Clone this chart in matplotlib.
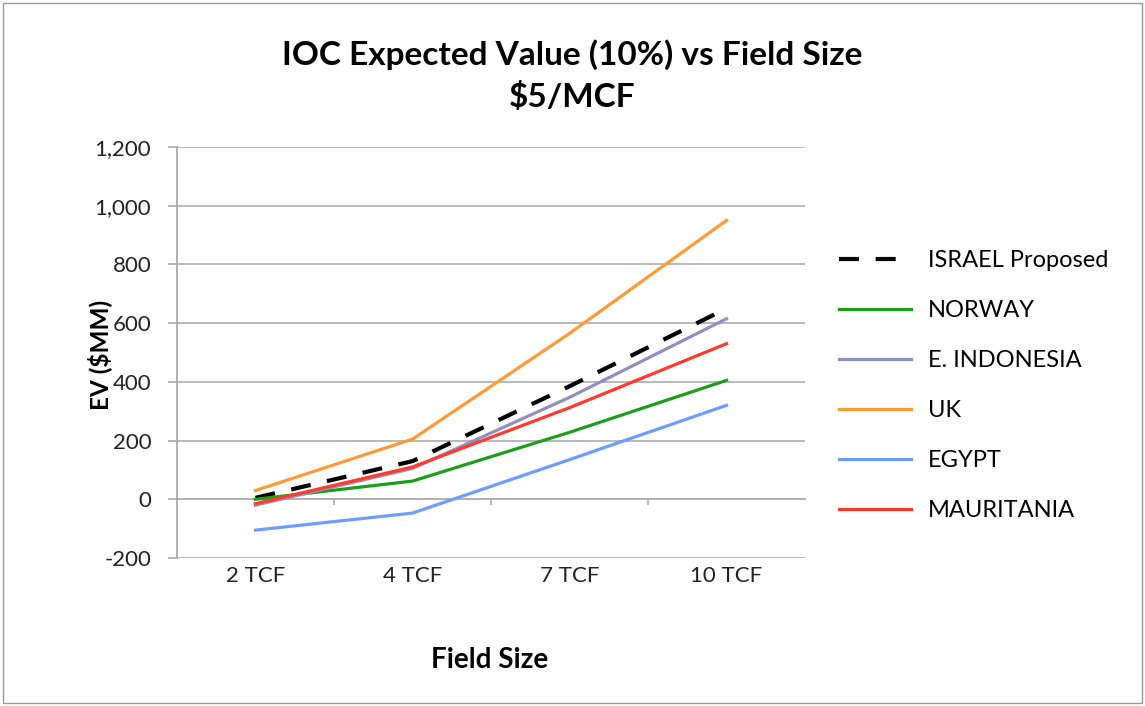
import matplotlib.pyplot as plt
from matplotlib.patches import Rectangle

plt.rcParams['font.family'] = ['Lato', 'DejaVu Sans']

sizes = ['2 TCF', '4 TCF', '7 TCF', '10 TCF']
israel = [5, 130, 385, 650]
norway = [0, 62, 228, 405]
indonesia = [-20, 105, 347, 615]
uk = [30, 205, 565, 950]
egypt = [-105, -47, 135, 320]
mauritania = [-15, 110, 312, 530]

series = [
    ('ISRAEL Proposed', israel, 'black', (0, (4.8, 4))),
    ('NORWAY', norway, '#1c9e1c', '-'),
    ('E. INDONESIA', indonesia, '#9090c0', '-'),
    ('UK', uk, '#ff9a36', '-'),
    ('EGYPT', egypt, '#6e9cff', '-'),
    ('MAURITANIA', mauritania, '#ff3b2f', '-'),
]

fig = plt.figure(figsize=(11.45, 7.06), dpi=100)
ax = fig.add_axes([177/1145, 1 - 558/706, (805-177)/1145, (558-147)/706])

x = list(range(len(sizes)))
for name, vals, col, ls in series:
    lw = 3.0 if name.startswith('ISRAEL') else 2.3
    ax.plot(x, vals, color=col, linestyle=ls, lw=lw, label=name)

ax.set_xlim(-0.5, 3.5)
ax.set_ylim(-200, 1200)
ax.set_yticks(range(-200, 1201, 200))
ax.set_yticklabels(['{:,}'.format(v) for v in range(-200, 1201, 200)])
ax.grid(axis='y', color='#b3b3b3', lw=1.3)
ax.set_axisbelow(True)
for s in ['top', 'right']:
    ax.spines[s].set_visible(False)
ax.spines['left'].set_color('#aaaaaa')
ax.spines['left'].set_linewidth(1.3)
ax.spines['bottom'].set_visible(False)
ax.tick_params(axis='y', colors='#aaaaaa', labelcolor='#222222', labelsize=16, length=6.5, width=1.2, pad=12)
ax.set_xticks(x)
ax.set_xticklabels(sizes)
ax.tick_params(axis='x', length=0, labelsize=16, labelcolor='#222222', pad=6)

# horizontal axis crossing at zero with category boundary ticks
sec = ax.secondary_xaxis(200/1400)
sec.set_xticks([0.5, 1.5, 2.5])
sec.set_xticklabels([])
sec.tick_params(length=4, width=1.2, color='#aaaaaa')
sec.spines['bottom'].set_color('#b3b3b3')
sec.spines['bottom'].set_linewidth(1.3)

ax.set_xlabel('Field Size', fontsize=20, fontweight='bold', va='center')
ax.xaxis.set_label_coords((490-177)/628, (558-660)/411)
ax.set_ylabel('EV ($MM)', fontsize=17.5, fontweight='bold', va='center')
ax.yaxis.set_label_coords((100-177)/628, 0.494)

fig.text(0.5, 1 - 55/706, 'IOC Expected Value (10%) vs Field Size',
         ha='center', va='center', fontsize=24, fontweight='bold')
fig.text(0.5, 1 - 97/706, '$5/MCF',
         ha='center', va='center', fontsize=24, fontweight='bold')

ax.legend(loc='upper left', bbox_to_anchor=(818/1145, 1 - 229/706), bbox_transform=fig.transFigure,
          frameon=False, fontsize=17, handlelength=3.05, labelspacing=1.23, handletextpad=0.72)

fig.patches.append(Rectangle((0.003, 0.004), 0.994, 0.992, transform=fig.transFigure,
                             fill=False, edgecolor='#999999', lw=1))

fig.savefig('out.png', dpi=100)
